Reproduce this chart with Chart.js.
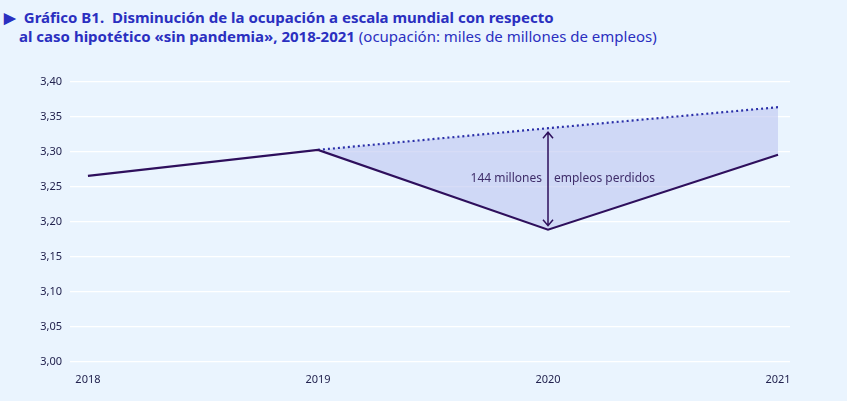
<!DOCTYPE html>
<html lang="es">
<head>
<meta charset="UTF-8">
<title>Gráfico B1</title>
<script src="https://cdn.jsdelivr.net/npm/chart.js@4"></script>
<style>
    body { margin: 0; background: #eaf4fe; font-family: "Noto Sans", sans-serif; }
    #wrap { position: relative; width: 847px; height: 401px; }
    #title { position: absolute; left: 4px; top: 8px; font-size: 15px; line-height: 19px; color: #2a2fc0; font-weight: bold; }
    #title span.n { font-weight: normal; }
    canvas { position: absolute; left: 0; top: 0; }
</style>
</head>
<body>
<div id="wrap">
    <div id="title">&#9654;&nbsp; Gráfico B1.&nbsp; Disminución de la ocupación a escala mundial con respecto<br>
        <span style="padding-left:15px"></span>al caso hipotético «sin pandemia», 2018-2021 <span class="n">(ocupación: miles de millones de empleos)</span></div>
    <canvas id="myChart" width="847" height="401"></canvas>
</div>
<script type="text/javascript">
    var years = [2018, 2019, 2020, 2021];
    var actual = [3.266, 3.303, 3.189, 3.296];
    var noPandemic = [null, 3.303, 3.334, 3.364];
    var yTicks = [3.00, 3.05, 3.10, 3.15, 3.20, 3.25, 3.30, 3.35, 3.40];
    var gapLabelLeft = "144 millones";
    var gapLabelRight = "empleos perdidos";

    var lineColor = "#2e0f5c";

    var gapPlugin = {
        id: "gap",
        afterDatasetsDraw: function (chart) {
            var c = chart.ctx, xs = chart.scales.x, ys = chart.scales.y;
            var x = xs.getPixelForValue(years[2]);
            var top = ys.getPixelForValue(noPandemic[2]) + 4;
            var bot = ys.getPixelForValue(actual[2]) - 4;
            c.save();
            c.strokeStyle = lineColor;
            c.lineWidth = 1.5;
            c.beginPath();
            c.moveTo(x, top); c.lineTo(x, bot);
            c.moveTo(x - 5, top + 6); c.lineTo(x, top); c.lineTo(x + 5, top + 6);
            c.moveTo(x - 5, bot - 6); c.lineTo(x, bot); c.lineTo(x + 5, bot - 6);
            c.stroke();
            c.fillStyle = "#3f2d6a";
            c.font = "12px 'Noto Sans'";
            c.textBaseline = "middle";
            var ty = ys.getPixelForValue(3.262);
            c.textAlign = "right";
            c.fillText(gapLabelLeft, x - 6, ty);
            c.textAlign = "left";
            c.fillText(gapLabelRight, x + 6, ty);
            c.restore();
        }
    };

    new Chart(document.getElementById("myChart"), {
        type: "line",
        data: {
            datasets: [{
                data: years.map(function (y, i) { return {x: y, y: actual[i]}; }),
                borderColor: lineColor,
                borderWidth: 2.2,
                pointRadius: 0,
                fill: false,
                tension: 0
            }, {
                data: years.map(function (y, i) { return {x: y, y: noPandemic[i]}; }),
                borderColor: "#2b2fa8",
                borderWidth: 2.2,
                borderDash: [2, 3],
                pointRadius: 0,
                fill: {target: 0},
                backgroundColor: "rgba(188, 196, 240, 0.6)",
                tension: 0
            }]
        },
        options: {
            responsive: false,
            animation: false,
            layout: {padding: {top: 82, right: 57, left: 0, bottom: 0}},
            plugins: {legend: {display: false}, tooltip: {enabled: false}},
            scales: {
                x: {
                    type: "linear",
                    min: 2017.922, max: 2021.052,
                    afterBuildTicks: function (s) { s.ticks = years.map(function (v) { return {value: v}; }); },
                    afterFit: function (s) { s.height = 39; },
                    grid: {display: false},
                    border: {display: false},
                    ticks: {color: "#23234f", font: {size: 11, family: "Noto Sans"}, callback: function (v) { return String(v); }}
                },
                y: {
                    min: 3.00, max: 3.40,
                    afterBuildTicks: function (s) { s.ticks = yTicks.map(function (v) { return {value: v}; }); },
                    afterFit: function (s) { s.width = 70; },
                    grid: {color: "#ffffff", lineWidth: 1.2, drawTicks: false},
                    border: {display: false},
                    ticks: {color: "#23234f", padding: 8, font: {size: 11, family: "Noto Sans"},
                        callback: function (v) { return v.toFixed(2).replace(".", ","); }}
                }
            }
        },
        plugins: [gapPlugin]
    });
</script>
</body>
</html>
